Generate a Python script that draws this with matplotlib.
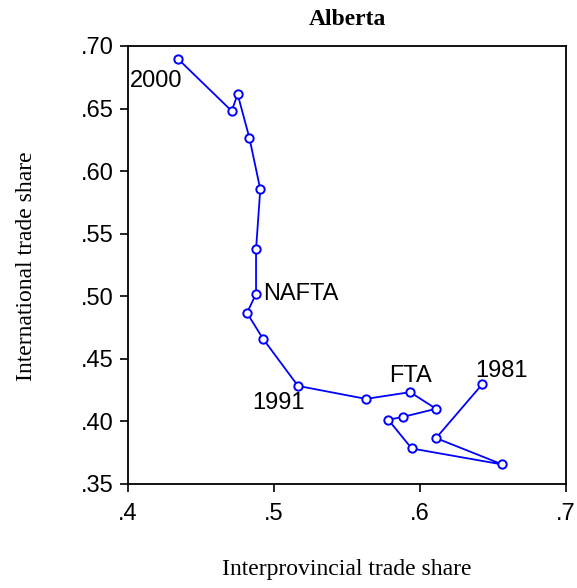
import numpy as np
import matplotlib.pyplot as plt
from matplotlib.ticker import FuncFormatter

# Alberta trade shares, 1981 -> 2000
interprov = [0.6427, 0.6110, 0.6564, 0.5943, 0.5783, 0.5886, 0.6110, 0.5932,
             0.5630, 0.5164, 0.4925, 0.4815, 0.4877, 0.4877, 0.4906, 0.4831,
             0.4751, 0.4710, 0.4345]
intl = [0.4298, 0.3867, 0.3656, 0.3784, 0.4013, 0.4037, 0.4101, 0.4234,
        0.4180, 0.4284, 0.4660, 0.4867, 0.5019, 0.5376, 0.5855, 0.6268,
        0.6614, 0.6481, 0.6894]

# labelled points: (index, text)
notes = [(0, '1981'), (7, 'FTA'), (9, '1991'), (12, 'NAFTA'), (18, '2000')]

sans = ['Liberation Sans', 'DejaVu Sans']
serif = ['Liberation Serif', 'DejaVu Serif']
fs = 17
W, H = 577, 588

fig = plt.figure(figsize=(W/100, H/100), dpi=100)
ax = fig.add_axes([128/W, 1-484/H, 438/W, 438/H])

ax.plot(interprov, intl, color='#0000ff', lw=1.3, marker='o', ms=6,
        mfc='white', mec='#0000ff', mew=1.4)

# pixel offsets of each label's anchor from its point
offsets = {'1981': (19, 16, 'center'),
           'FTA': (0, 19, 'center'),
           '1991': (7, -15, 'right'),
           'NAFTA': (7, 2, 'left'),
           '2000': (4, -19, 'right')}
for i, txt in notes:
    dx, dy, ha = offsets[txt]
    ax.annotate(txt, (interprov[i], intl[i]), xytext=(dx, dy),
                textcoords='offset pixels', ha=ha, va='center_baseline',
                fontsize=fs, family=sans)

ax.set_xlim(0.4, 0.7)
ax.set_ylim(0.35, 0.70)
ax.set_xticks([0.4, 0.5, 0.6, 0.7])
ax.set_yticks(np.arange(0.35, 0.701, 0.05))
ax.xaxis.set_major_formatter(FuncFormatter(lambda v, p: ('%.1f' % v).lstrip('0')))
ax.yaxis.set_major_formatter(FuncFormatter(lambda v, p: ('%.2f' % v).lstrip('0')))
ax.tick_params(direction='out', length=6, width=1.2, labelsize=fs)
ax.tick_params(axis='y', pad=4)
ax.tick_params(axis='x', pad=8)
for lab in ax.get_xticklabels() + ax.get_yticklabels():
    lab.set_family(sans)
for s in ax.spines.values():
    s.set_linewidth(1.3)

# title and axis titles placed in figure pixels
fig.text(347/W, 1-17/H, 'Alberta', ha='center', va='center_baseline',
         fontsize=fs, fontweight='bold', family=serif)
fig.text(347/W, 1-567/H, 'Interprovincial trade share', ha='center',
         va='center_baseline', fontsize=fs, family=serif)
fig.text(27/W, 1-266/H, 'International trade share', ha='center',
         va='center', rotation=90, fontsize=fs, family=serif)

fig.savefig('out.png', dpi=100)
